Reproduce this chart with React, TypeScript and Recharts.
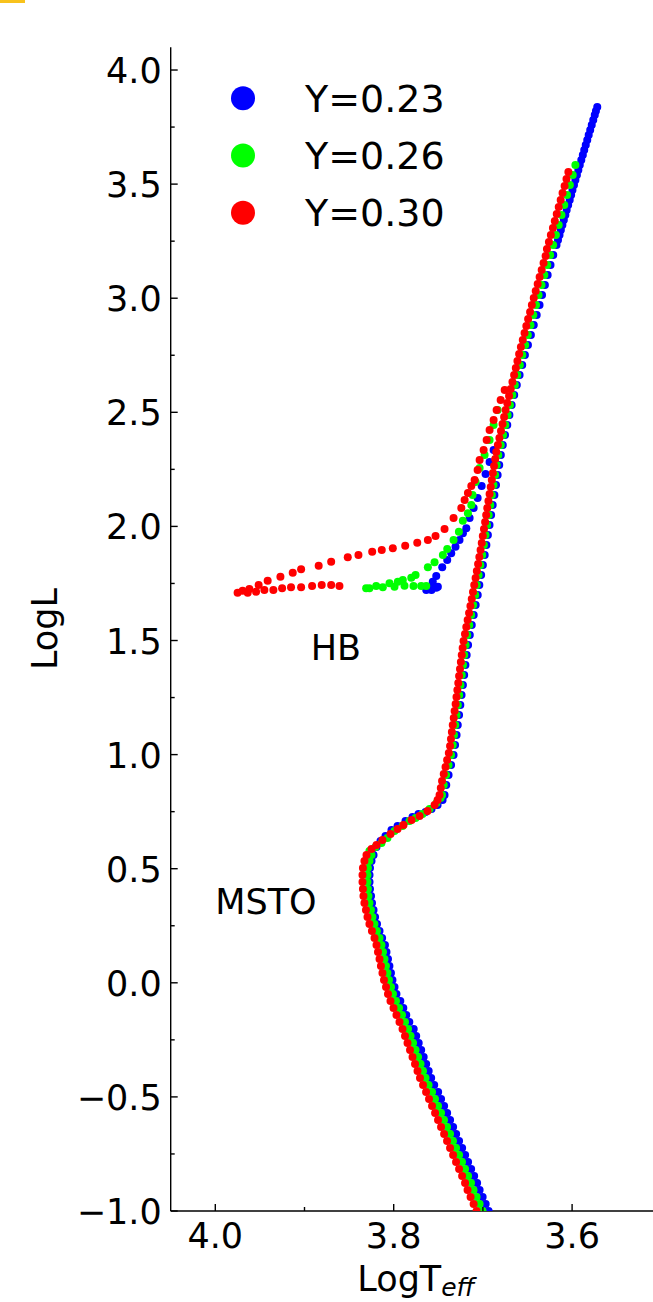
import { ScatterChart, Scatter, XAxis, YAxis, ReferenceDot } from 'recharts';

const FONT = '"DejaVu Sans", sans-serif';

// ticks
const xTicks = [3.6, 3.7, 3.8, 3.9, 4.0];
const xMajor = [3.6, 3.8, 4.0];
const yTicks = [-1, -0.75, -0.5, -0.25, 0, 0.25, 0.5, 0.75, 1, 1.25, 1.5, 1.75, 2, 2.25, 2.5, 2.75, 3, 3.25, 3.5, 3.75, 4];
const yMajor = [-1, -0.5, 0, 0.5, 1, 1.5, 2, 2.5, 3, 3.5, 4];

const legendLabels = ['Y=0.23', 'Y=0.26', 'Y=0.30'];
const seriesColors = ['#0000ff', '#00ff00', '#ff0000'];

// [LogTeff, LogL] -- Y=0.23
const msBlue = [[3.6936,-1.0000],[3.6969,-0.9693],[3.7003,-0.9387],[3.7037,-0.9080],[3.7065,-0.8773],[3.7098,-0.8466],[3.7132,-0.8160],[3.7166,-0.7853],[3.7199,-0.7546],[3.7233,-0.7239],[3.7267,-0.6933],[3.7300,-0.6626],[3.7334,-0.6319],[3.7368,-0.6012],[3.7401,-0.5706],[3.7435,-0.5399],[3.7469,-0.5092],[3.7502,-0.4785],[3.7546,-0.4479],[3.7580,-0.4172],[3.7608,-0.3865],[3.7636,-0.3558],[3.7664,-0.3252],[3.7692,-0.2945],[3.7720,-0.2638],[3.7748,-0.2331],[3.7776,-0.2025],[3.7825,-0.1718],[3.7859,-0.1411],[3.7892,-0.1104],[3.7926,-0.0798],[3.7969,-0.0491],[3.7991,-0.0184],[3.8014,0.0123],[3.8031,0.0429],[3.8048,0.0736],[3.8064,0.1043],[3.8081,0.1350],[3.8098,0.1656],[3.8130,0.1963],[3.8159,0.2270],[3.8187,0.2577],[3.8209,0.2883],[3.8226,0.3190],[3.8243,0.3497],[3.8254,0.3804],[3.8266,0.4110],[3.8271,0.4417],[3.8271,0.4724],[3.8266,0.5031],[3.8249,0.5337],[3.8226,0.5600]];
const sgbBlue = [[3.8249,0.5688],[3.8193,0.5951],[3.8148,0.6214],[3.8092,0.6433],[3.8025,0.6696],[3.7957,0.6871],[3.7868,0.7090],[3.7789,0.7266],[3.7722,0.7397],[3.7643,0.7485],[3.7576,0.7616],[3.7508,0.7792],[3.7452,0.8011]];
const rgbBlue = [[3.7430,0.8230],[3.7411,0.8668],[3.7385,0.9106],[3.7357,0.9544],[3.7329,0.9983],[3.7312,1.0421],[3.7295,1.0859],[3.7282,1.1297],[3.7267,1.1735],[3.7253,1.2174],[3.7239,1.2612],[3.7224,1.3050],[3.7210,1.3488],[3.7196,1.3926],[3.7182,1.4365],[3.7166,1.4803],[3.7147,1.5241],[3.7125,1.5679],[3.7103,1.6117],[3.7081,1.6556],[3.7058,1.6994],[3.7040,1.7432],[3.7020,1.7870],[3.7000,1.8308],[3.6980,1.8747],[3.6961,1.9185],[3.6944,1.9623],[3.6926,2.0061],[3.6908,2.0500],[3.6890,2.0938],[3.6871,2.1376],[3.6853,2.1814],[3.6835,2.2252],[3.6817,2.2691],[3.6799,2.3129],[3.6777,2.3567],[3.6752,2.4005],[3.6727,2.4443],[3.6703,2.4882],[3.6678,2.5320],[3.6649,2.5758],[3.6620,2.6196],[3.6589,2.6635],[3.6559,2.7073],[3.6529,2.7511],[3.6495,2.7949],[3.6462,2.8387],[3.6430,2.8826],[3.6397,2.9264],[3.6365,2.9702],[3.6337,3.0140],[3.6305,3.0578],[3.6274,3.1017],[3.6242,3.1455],[3.6211,3.1893],[3.6175,3.2331],[3.6158,3.2550],[3.6141,3.2770],[3.6126,3.2989],[3.6109,3.3208],[3.6093,3.3427],[3.6076,3.3646],[3.6061,3.3865],[3.6044,3.4084],[3.6027,3.4303],[3.6011,3.4522],[3.5996,3.4742],[3.5979,3.4961],[3.5963,3.5180],[3.5946,3.5399],[3.5930,3.5618],[3.5914,3.5837],[3.5897,3.6056],[3.5880,3.6275],[3.5864,3.6494],[3.5847,3.6713],[3.5830,3.6933],[3.5814,3.7152],[3.5797,3.7371],[3.5780,3.7590],[3.5763,3.7809],[3.5746,3.8028],[3.5733,3.8204],[3.5718,3.8379]];
const hbBlue = [[3.6880,2.3348],[3.6925,2.2822],[3.6970,2.2296],[3.7014,2.1770],[3.7059,2.1244],[3.7104,2.0806],[3.7149,2.0368],[3.7186,1.9916],[3.7224,1.9697],[3.7262,1.9404],[3.7307,1.9110],[3.7355,1.8821],[3.7400,1.8527],[3.7456,1.8208],[3.7523,1.7826],[3.7562,1.7577],[3.7599,1.7358],[3.7635,1.7213],[3.7576,1.7213],[3.7523,1.7314],[3.7505,1.7358]];

// Y=0.26
const msGreen = [[3.7004,-1.0000],[3.7037,-0.9693],[3.7071,-0.9387],[3.7105,-0.9080],[3.7133,-0.8773],[3.7166,-0.8466],[3.7200,-0.8160],[3.7234,-0.7853],[3.7267,-0.7546],[3.7301,-0.7239],[3.7335,-0.6933],[3.7368,-0.6626],[3.7402,-0.6319],[3.7436,-0.6012],[3.7469,-0.5706],[3.7503,-0.5399],[3.7537,-0.5092],[3.7570,-0.4785],[3.7609,-0.4479],[3.7643,-0.4172],[3.7671,-0.3865],[3.7699,-0.3558],[3.7727,-0.3252],[3.7755,-0.2945],[3.7783,-0.2638],[3.7811,-0.2331],[3.7839,-0.2025],[3.7873,-0.1718],[3.7907,-0.1411],[3.7940,-0.1104],[3.7974,-0.0798],[3.8008,-0.0491],[3.8030,-0.0184],[3.8053,0.0123],[3.8070,0.0429],[3.8087,0.0736],[3.8103,0.1043],[3.8120,0.1350],[3.8137,0.1656],[3.8159,0.1963],[3.8188,0.2270],[3.8216,0.2577],[3.8238,0.2883],[3.8255,0.3190],[3.8272,0.3497],[3.8283,0.3804],[3.8289,0.4110],[3.8294,0.4417],[3.8294,0.4724],[3.8289,0.5031],[3.8272,0.5337],[3.8249,0.5600]];
const sgbGreen = [[3.8272,0.5776],[3.8204,0.5951],[3.8137,0.6126],[3.8070,0.6345],[3.7991,0.6652],[3.7901,0.6871],[3.7823,0.7090],[3.7755,0.7222],[3.7677,0.7397],[3.7598,0.7616],[3.7520,0.7879],[3.7475,0.8098]];
const rgbGreen = [[3.7458,0.8230],[3.7439,0.8668],[3.7413,0.9106],[3.7385,0.9544],[3.7357,0.9983],[3.7338,1.0421],[3.7324,1.0859],[3.7310,1.1297],[3.7295,1.1735],[3.7281,1.2174],[3.7266,1.2612],[3.7251,1.3050],[3.7237,1.3488],[3.7223,1.3926],[3.7209,1.4365],[3.7194,1.4803],[3.7175,1.5241],[3.7153,1.5679],[3.7131,1.6117],[3.7109,1.6556],[3.7086,1.6994],[3.7068,1.7432],[3.7048,1.7870],[3.7028,1.8308],[3.7008,1.8747],[3.6989,1.9185],[3.6971,1.9623],[3.6953,2.0061],[3.6935,2.0500],[3.6917,2.0938],[3.6899,2.1376],[3.6881,2.1814],[3.6863,2.2252],[3.6845,2.2691],[3.6827,2.3129],[3.6800,2.3567],[3.6774,2.4005],[3.6749,2.4443],[3.6723,2.4882],[3.6697,2.5320],[3.6670,2.5758],[3.6642,2.6196],[3.6614,2.6635],[3.6586,2.7073],[3.6558,2.7511],[3.6526,2.7949],[3.6496,2.8387],[3.6466,2.8826],[3.6435,2.9264],[3.6405,2.9702],[3.6376,3.0140],[3.6343,3.0578],[3.6311,3.1017],[3.6278,3.1455],[3.6246,3.1893],[3.6213,3.2331],[3.6182,3.2770],[3.6150,3.3208],[3.6119,3.3646],[3.6088,3.4084],[3.6056,3.4522],[3.6025,3.4961],[3.5993,3.5399],[3.5963,3.5837]];
const hbGreen = [[3.6835,2.5101],[3.6880,2.4444],[3.6925,2.3786],[3.6981,2.3129],[3.7037,2.2559],[3.7082,2.1946],[3.7116,2.1376],[3.7130,2.0937],[3.7168,2.0574],[3.7225,2.0250],[3.7269,1.9768],[3.7329,1.9404],[3.7400,1.9010],[3.7449,1.8747],[3.7542,1.8427],[3.7617,1.8208],[3.7755,1.7870],[3.7803,1.7752],[3.7898,1.7651],[3.7954,1.7577],[3.8047,1.7507],[3.8196,1.7389],[3.8272,1.7288],[3.8309,1.7288],[3.8122,1.7332],[3.7991,1.7358],[3.7879,1.7402],[3.7778,1.7389],[3.7692,1.7389],[3.7635,1.7389]];

// Y=0.30
const msRed = [[3.7071,-1.0000],[3.7104,-0.9693],[3.7138,-0.9387],[3.7172,-0.9080],[3.7200,-0.8773],[3.7233,-0.8466],[3.7267,-0.8160],[3.7301,-0.7853],[3.7334,-0.7546],[3.7368,-0.7239],[3.7402,-0.6933],[3.7435,-0.6626],[3.7469,-0.6319],[3.7503,-0.6012],[3.7536,-0.5706],[3.7570,-0.5399],[3.7604,-0.5092],[3.7637,-0.4785],[3.7671,-0.4479],[3.7705,-0.4172],[3.7733,-0.3865],[3.7761,-0.3558],[3.7789,-0.3252],[3.7817,-0.2945],[3.7845,-0.2638],[3.7873,-0.2331],[3.7901,-0.2025],[3.7935,-0.1718],[3.7969,-0.1411],[3.8002,-0.1104],[3.8036,-0.0798],[3.8064,-0.0491],[3.8086,-0.0184],[3.8109,0.0123],[3.8126,0.0429],[3.8143,0.0736],[3.8159,0.1043],[3.8176,0.1350],[3.8193,0.1656],[3.8215,0.1963],[3.8244,0.2270],[3.8272,0.2577],[3.8294,0.2883],[3.8311,0.3190],[3.8328,0.3497],[3.8339,0.3804],[3.8345,0.4110],[3.8350,0.4417],[3.8350,0.4724],[3.8345,0.5031],[3.8328,0.5337],[3.8305,0.5600]];
const sgbRed = [[3.8249,0.5863],[3.8193,0.6039],[3.8126,0.6258],[3.8036,0.6521],[3.7957,0.6740],[3.7890,0.6915],[3.7800,0.7134],[3.7710,0.7310],[3.7621,0.7529],[3.7542,0.7792],[3.7508,0.8011]];
const rgbRed = [[3.7486,0.8230],[3.7472,0.8536],[3.7458,0.8843],[3.7439,0.9150],[3.7419,0.9457],[3.7401,0.9763],[3.7382,1.0070],[3.7368,1.0377],[3.7358,1.0684],[3.7348,1.0990],[3.7338,1.1297],[3.7327,1.1604],[3.7317,1.1911],[3.7306,1.2217],[3.7296,1.2524],[3.7286,1.2831],[3.7276,1.3138],[3.7267,1.3444],[3.7257,1.3751],[3.7247,1.4058],[3.7237,1.4365],[3.7227,1.4671],[3.7217,1.4978],[3.7201,1.5285],[3.7186,1.5592],[3.7171,1.5898],[3.7155,1.6205],[3.7140,1.6512],[3.7125,1.6819],[3.7111,1.7125],[3.7097,1.7432],[3.7082,1.7739],[3.7068,1.8046],[3.7054,1.8352],[3.7040,1.8659],[3.7026,1.8966],[3.7013,1.9273],[3.7001,1.9579],[3.6988,1.9886],[3.6975,2.0193],[3.6963,2.0500],[3.6951,2.0806],[3.6938,2.1113],[3.6925,2.1420],[3.6912,2.1727],[3.6900,2.2033],[3.6888,2.2340],[3.6875,2.2647],[3.6862,2.2954],[3.6850,2.3260],[3.6832,2.3567],[3.6815,2.3874],[3.6797,2.4181],[3.6780,2.4487],[3.6762,2.4794],[3.6745,2.5101],[3.6727,2.5408],[3.6707,2.5714],[3.6688,2.6021],[3.6669,2.6328],[3.6650,2.6635],[3.6631,2.6941],[3.6613,2.7248],[3.6594,2.7555],[3.6574,2.7862],[3.6553,2.8168],[3.6533,2.8475],[3.6513,2.8782],[3.6493,2.9089],[3.6471,2.9395],[3.6451,2.9702],[3.6430,3.0009],[3.6408,3.0316],[3.6386,3.0622],[3.6364,3.0929],[3.6341,3.1236],[3.6320,3.1543],[3.6297,3.1849],[3.6282,3.2156],[3.6260,3.2463],[3.6238,3.2770],[3.6215,3.3076],[3.6194,3.3383],[3.6172,3.3690],[3.6150,3.3997],[3.6128,3.4303],[3.6107,3.4610],[3.6084,3.4917],[3.6063,3.5224],[3.6042,3.5530]];
const hbRed = [[3.6756,2.5977],[3.6801,2.5539],[3.6846,2.5101],[3.6880,2.4663],[3.6925,2.4225],[3.6958,2.3786],[3.6992,2.3348],[3.7037,2.2910],[3.7059,2.2472],[3.7093,2.2033],[3.7130,2.1770],[3.7168,2.1464],[3.7205,2.1157],[3.7242,2.0806],[3.7329,2.0368],[3.7430,1.9886],[3.7531,1.9579],[3.7617,1.9404],[3.7736,1.9286],[3.7871,1.9154],[3.8010,1.9040],[3.8134,1.8966],[3.8241,1.8891],[3.8395,1.8747],[3.8515,1.8646],[3.8701,1.8453],[3.8841,1.8278],[3.9038,1.8120],[3.9132,1.7971],[3.9270,1.7796],[3.9413,1.7621],[3.9514,1.7432],[3.9618,1.7257],[3.9694,1.7182],[3.9750,1.7095],[3.9637,1.7095],[3.9543,1.7139],[3.9450,1.7213],[3.9349,1.7213],[3.9251,1.7288],[3.9151,1.7332],[3.9038,1.7332],[3.8915,1.7389],[3.8807,1.7432],[3.8701,1.7432],[3.8608,1.7389]];

const toPoints = (parts: number[][][]) => parts.flat().map(([x, y]) => ({ x, y }));

const blueData = toPoints([msBlue, sgbBlue, rgbBlue, hbBlue]);
const greenData = toPoints([msGreen, sgbGreen, rgbGreen, hbGreen]);
const redData = toPoints([msRed, sgbRed, rgbRed, hbRed]);

const isMajor = (list: number[], v: number) => list.some(m => Math.abs(m - v) < 1e-6);
const fmt = (v: number) => (v < 0 ? '\u2212' : '') + Math.abs(v).toFixed(1);

const BottomTick = (props: any) => {
  const { x, y, payload } = props;
  const major = isMajor(xMajor, payload.value);
  return (
    <g>
      <line x1={x} x2={x} y1={y} y2={y - (major ? 7 : 4)} stroke="#000" strokeWidth={1.4} />
      {major && (
        <text x={x} y={y + 37} textAnchor="middle" fontSize={35} fontFamily={FONT} fill="#000">
          {fmt(payload.value)}
        </text>
      )}
    </g>
  );
};

const TopTick = (props: any) => {
  const { x, y, payload } = props;
  const major = isMajor(xMajor, payload.value);
  return <line x1={x} x2={x} y1={y} y2={y + (major ? 7 : 4)} stroke="#000" strokeWidth={1.4} />;
};

const LeftTick = (props: any) => {
  const { x, y, payload } = props;
  const major = isMajor(yMajor, payload.value);
  return (
    <g>
      <line x1={x} x2={x + (major ? 7 : 4)} y1={y} y2={y} stroke="#000" strokeWidth={1.4} />
      {major && (
        <text x={x - 9} y={y + 13} textAnchor="end" fontSize={35} fontFamily={FONT} fill="#000">
          {fmt(payload.value)}
        </text>
      )}
    </g>
  );
};

const dot = (color: string) => (props: any) => <circle cx={props.cx} cy={props.cy} r={4} fill={color} />;

export default function App() {
  return (
    <div style={{ position: 'absolute', left: 0, top: 0, width: 653, height: 1302, overflow: 'hidden', background: '#fff' }}>
      <div style={{ position: 'absolute', left: 0, top: 0, width: 25, height: 3, background: '#f8c21c' }} />
      <ScatterChart width={700} height={1302} margin={{ top: 47.2, right: 38.7, bottom: 1, left: 90.7 }}>
        <XAxis
          type="number"
          dataKey="x"
          domain={[3.5, 4.05]}
          reversed
          allowDataOverflow
          ticks={xTicks}
          interval={0}
          tick={BottomTick}
          tickLine={false}
          tickSize={0}
          tickMargin={0}
          height={90}
          axisLine={{ stroke: '#000', strokeWidth: 1.4 }}
          label={{
            content: (p: any) => {
              const vb = p.viewBox;
              return (
                <text x={vb.x + vb.width / 2} y={vb.y + 80} textAnchor="middle" fontSize={35} fontFamily={FONT} fill="#000">
                  LogT
                  <tspan fontStyle="italic" fontSize={25} dy={5}>eff</tspan>
                </text>
              );
            },
          }}
        />
        <XAxis
          xAxisId="top"
          orientation="top"
          type="number"
          domain={[3.5, 4.05]}
          reversed
          allowDataOverflow
          ticks={xTicks}
          interval={0}
          tick={TopTick}
          tickLine={false}
          tickSize={0}
          tickMargin={0}
          height={0}
          axisLine={{ stroke: '#000', strokeWidth: 1.4 }}
          label={{
            content: (p: any) => {
              const vb = p.viewBox;
              return (
                <text x={vb.x + vb.width / 2} y={35} textAnchor="middle" fontSize={33} fontFamily={FONT} fill="#000">
                  Z=0.0004, T=10 Gyr
                </text>
              );
            },
          }}
        />
        <YAxis
          type="number"
          dataKey="y"
          domain={[-1, 4.1]}
          allowDataOverflow
          ticks={yTicks}
          interval={0}
          tick={LeftTick}
          tickLine={false}
          tickSize={0}
          tickMargin={0}
          width={80}
          axisLine={{ stroke: '#000', strokeWidth: 1.4 }}
          label={{
            content: (p: any) => {
              const vb = p.viewBox;
              const cy = vb.y + vb.height / 2;
              return (
                <text x={57} y={cy} transform={`rotate(-90, 57, ${cy})`} textAnchor="middle" fontSize={35} fontFamily={FONT} fill="#000">
                  LogL
                </text>
              );
            },
          }}
        />
        <Scatter data={blueData} isAnimationActive={false} shape={dot(seriesColors[0])} />
        <Scatter data={greenData} isAnimationActive={false} shape={dot(seriesColors[1])} />
        <Scatter data={redData} isAnimationActive={false} shape={dot(seriesColors[2])} />
        <ReferenceDot
          x={3.893}
          y={1.415}
          r={0}
          fill="none"
          stroke="none"
          ifOverflow="visible"
          label={{ content: (p: any) => <text x={p.viewBox.x} y={p.viewBox.y} fontSize={35} fontFamily={FONT} fill="#000">HB</text> }}
        />
        <ReferenceDot
          x={4.0}
          y={0.3}
          r={0}
          fill="none"
          stroke="none"
          ifOverflow="visible"
          label={{ content: (p: any) => <text x={p.viewBox.x} y={p.viewBox.y} fontSize={35} fontFamily={FONT} fill="#000">MSTO</text> }}
        />
      </ScatterChart>
      <svg width={653} height={260} style={{ position: 'absolute', left: 0, top: 0, pointerEvents: 'none' }}>
        {legendLabels.map((label, i) => (
          <g key={label}>
            <circle cx={243} cy={98.3 + i * 57.2} r={12} fill={seriesColors[i]} />
            <text x={305} y={112 + i * 57.2} fontSize={38} fontFamily={FONT} fill="#000">
              {label}
            </text>
          </g>
        ))}
      </svg>
    </div>
  );
}
